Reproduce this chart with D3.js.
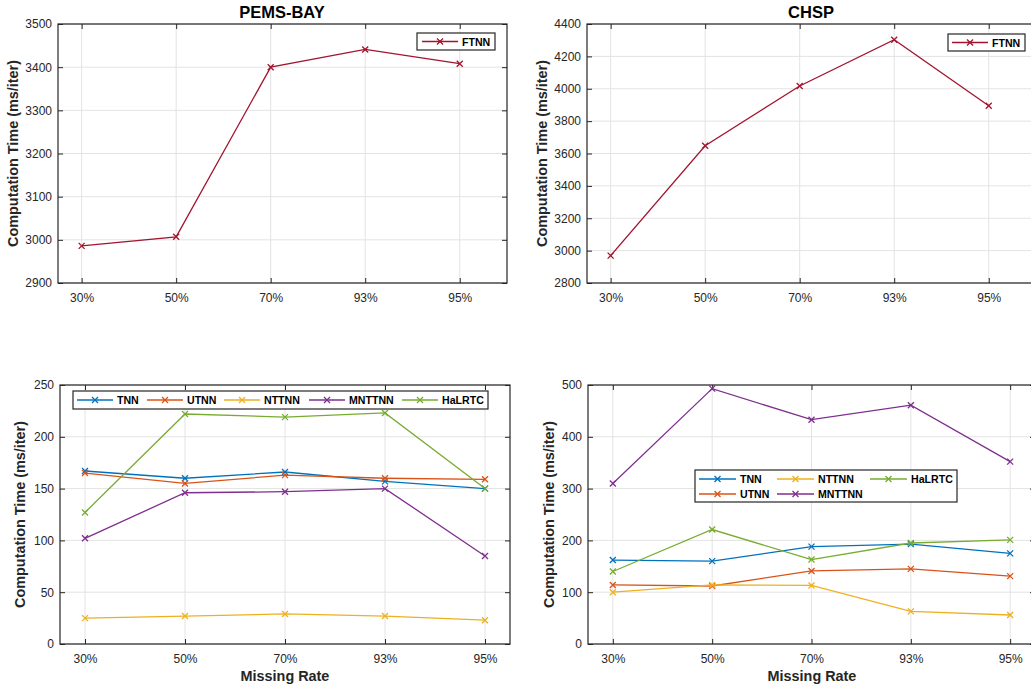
<!DOCTYPE html>
<html><head><meta charset="utf-8">
<script src="https://cdn.jsdelivr.net/npm/d3@7"></script>
<style>
html,body{margin:0;padding:0;background:#fff;}
svg{display:block;font-family:"Liberation Sans",Arial,Helvetica,sans-serif;}
</style></head>
<body>
<svg id="chart" width="1031" height="686"></svg>
<script>
// ---- data ----
const missingRates = ["30%", "50%", "70%", "93%", "95%"];

const pemsFTNN = [2986, 3007, 3400, 3441, 3408];
const chspFTNN = [2969, 3648, 4017, 4303, 3895];

const pemsTNN    = [167, 160, 166, 157, 150];
const pemsUTNN   = [165, 155, 163, 160, 159];
const pemsNTTNN  = [25, 27, 29, 27, 23];
const pemsMNTTNN = [102, 146, 147, 150, 85];
const pemsHaLRTC = [127, 222, 219, 223, 150];

const chspTNN    = [162, 160, 188, 193, 175];
const chspUTNN   = [114, 112, 141, 145, 131];
const chspNTTNN  = [100, 114, 113, 63, 56];
const chspMNTTNN = [310, 493, 433, 461, 352];
const chspHaLRTC = [140, 221, 163, 195, 201];

const pemsTopTicks = [2900, 3000, 3100, 3200, 3300, 3400, 3500];
const chspTopTicks = [2800, 3000, 3200, 3400, 3600, 3800, 4000, 4200, 4400];
const pemsBotTicks = [0, 50, 100, 150, 200, 250];
const chspBotTicks = [0, 100, 200, 300, 400, 500];

const seriesNames = ["TNN", "UTNN", "NTTNN", "MNTTNN", "HaLRTC"];
const seriesColors = ["#0072BD", "#D95319", "#EDB120", "#7E2F8E", "#77AC30"];
const ftnnColor = "#A2142F";

// ---- drawing ----
const svg = d3.select("#chart");
const AX = "#262626", GRID = "#e3e3e3";

function drawPanel(cfg) {
  const g = svg.append("g");
  const x = d3.scaleLinear().domain(cfg.xdom).range([cfg.left, cfg.right]);
  const y = d3.scaleLinear().domain([cfg.yticks[0], cfg.yticks[cfg.yticks.length - 1]]).range([cfg.bottom, cfg.top]);
  const xs = missingRates.map((d, i) => i + 1);

  // grid
  g.selectAll(".gx").data(xs).enter().append("line")
    .attr("x1", d => x(d)).attr("x2", d => x(d)).attr("y1", cfg.top).attr("y2", cfg.bottom)
    .attr("stroke", GRID).attr("stroke-width", 1);
  g.selectAll(".gy").data(cfg.yticks).enter().append("line")
    .attr("x1", cfg.left).attr("x2", cfg.right).attr("y1", d => y(d)).attr("y2", d => y(d))
    .attr("stroke", GRID).attr("stroke-width", 1);

  // axes via d3
  const xAxis = d3.axisBottom(x).tickValues(xs).tickFormat((d, i) => missingRates[i]).tickSizeInner(-5).tickSizeOuter(0).tickPadding(10);
  const yAxis = d3.axisLeft(y).tickValues(cfg.yticks).tickFormat(d3.format("d")).tickSizeInner(-5).tickSizeOuter(0).tickPadding(6);
  const gx = g.append("g").attr("transform", `translate(0,${cfg.bottom})`).call(xAxis);
  const gy = g.append("g").attr("transform", `translate(${cfg.left},0)`).call(yAxis);
  const gxt = g.append("g").attr("transform", `translate(0,${cfg.top})`).call(d3.axisTop(x).tickValues(xs).tickFormat("").tickSizeInner(-5).tickSizeOuter(0));
  const gyr = g.append("g").attr("transform", `translate(${cfg.right},0)`).call(d3.axisRight(y).tickValues(cfg.yticks).tickFormat("").tickSizeInner(-5).tickSizeOuter(0));
  [gx, gy, gxt, gyr].forEach(a => {
    a.select(".domain").remove();
    a.selectAll("line").attr("stroke", AX).attr("stroke-width", 1);
    a.selectAll("text").attr("fill", AX).style("font-size", "12px").style("font-family", '"Liberation Sans",Arial,sans-serif');
  });
  // box
  g.append("rect").attr("x", cfg.left).attr("y", cfg.top).attr("width", cfg.right - cfg.left).attr("height", cfg.bottom - cfg.top)
    .attr("fill", "none").attr("stroke", AX).attr("stroke-width", 1.2);

  // series
  const line = d3.line().x((d, i) => x(i + 1)).y(d => y(d));
  cfg.series.forEach(s => {
    g.append("path").datum(s.values).attr("d", line).attr("fill", "none")
      .attr("stroke", s.color).attr("stroke-width", 1.3);
    s.values.forEach((v, i) => {
      const cx = x(i + 1), cy = y(v), r = 3;
      g.append("path").attr("d", `M${cx - r},${cy - r}L${cx + r},${cy + r}M${cx - r},${cy + r}L${cx + r},${cy - r}`)
        .attr("stroke", s.color).attr("stroke-width", 1.3).attr("fill", "none");
    });
  });

  // labels
  g.append("text").attr("transform", `translate(${cfg.ylabX},${(cfg.top + cfg.bottom) / 2}) rotate(-90)`)
    .attr("text-anchor", "middle").attr("fill", AX).style("font-weight", "bold").style("font-size", "14.4px")
    .text("Computation Time (ms/iter)");
  if (cfg.title) {
    g.append("text").attr("x", cfg.titleX).attr("y", 18).attr("text-anchor", "middle").attr("fill", "#000")
      .style("font-weight", "bold").style("font-size", "16.5px").text(cfg.title);
  }
  if (cfg.xlabel) {
    g.append("text").attr("x", cfg.xlabX).attr("y", cfg.bottom + 37)
      .attr("text-anchor", "middle").attr("fill", AX).style("font-weight", "bold").style("font-size", "14.4px").text(cfg.xlabel);
  }

  // legend
  const L = cfg.legend;
  g.append("rect").attr("x", L.x).attr("y", L.y).attr("width", L.w).attr("height", L.h)
    .attr("fill", "#fff").attr("stroke", AX).attr("stroke-width", 1.2);
  cfg.series.forEach((s, k) => {
    const p = L.pos[k];
    const lx = p[0], ly = p[1], lw = L.lineW;
    g.append("line").attr("x1", lx).attr("x2", lx + lw).attr("y1", ly).attr("y2", ly)
      .attr("stroke", s.color).attr("stroke-width", 1.3);
    const cx = lx + lw / 2, r = 3;
    g.append("path").attr("d", `M${cx - r},${ly - r}L${cx + r},${ly + r}M${cx - r},${ly + r}L${cx + r},${ly - r}`)
      .attr("stroke", s.color).attr("stroke-width", 1.3);
    g.append("text").attr("x", lx + lw + 4).attr("y", ly + 4).attr("fill", "#000")
      .style("font-weight", "bold").style("font-size", "10.6px").text(s.name);
  });
}

drawPanel({
  left: 58, right: 507, top: 24, bottom: 283, xdom: [0.75, 5.5], yticks: pemsTopTicks,
  series: [{ name: "FTNN", values: pemsFTNN, color: ftnnColor }],
  ylabX: 18, title: "PEMS-BAY", titleX: 282,
  legend: { x: 417, y: 33, w: 78, h: 17, lineW: 36, pos: [[422, 41.5]] }
});
drawPanel({
  left: 587, right: 1036, top: 24, bottom: 283, xdom: [0.75, 5.5], yticks: chspTopTicks,
  series: [{ name: "FTNN", values: chspFTNN, color: ftnnColor }],
  ylabX: 547, title: "CHSP", titleX: 811,
  legend: { x: 948, y: 34, w: 77, h: 17, lineW: 36, pos: [[952, 42.5]] }
});
const pemsSeries = [pemsTNN, pemsUTNN, pemsNTTNN, pemsMNTTNN, pemsHaLRTC].map((v, i) => ({ name: seriesNames[i], values: v, color: seriesColors[i] }));
const chspSeries = [chspTNN, chspUTNN, chspNTTNN, chspMNTTNN, chspHaLRTC].map((v, i) => ({ name: seriesNames[i], values: v, color: seriesColors[i] }));
drawPanel({
  left: 60, right: 510, top: 385, bottom: 644, xdom: [0.75, 5.25], yticks: pemsBotTicks,
  series: pemsSeries, ylabX: 25, xlabel: "Missing Rate", xlabX: 285,
  legend: { x: 73, y: 391, w: 415, h: 18, lineW: 36, pos: [[77, 400], [147, 400], [224, 400], [309, 400], [402, 400]] }
});
drawPanel({
  left: 588, right: 1035, top: 385, bottom: 644, xdom: [0.75, 5.25], yticks: chspBotTicks,
  series: chspSeries, ylabX: 554, xlabel: "Missing Rate", xlabX: 812,
  legend: { x: 695, y: 470, w: 262, h: 32, lineW: 37, pos: [[699, 479], [699, 494], [777, 479], [777, 494], [870, 479]] }
});
</script>
</body></html>
